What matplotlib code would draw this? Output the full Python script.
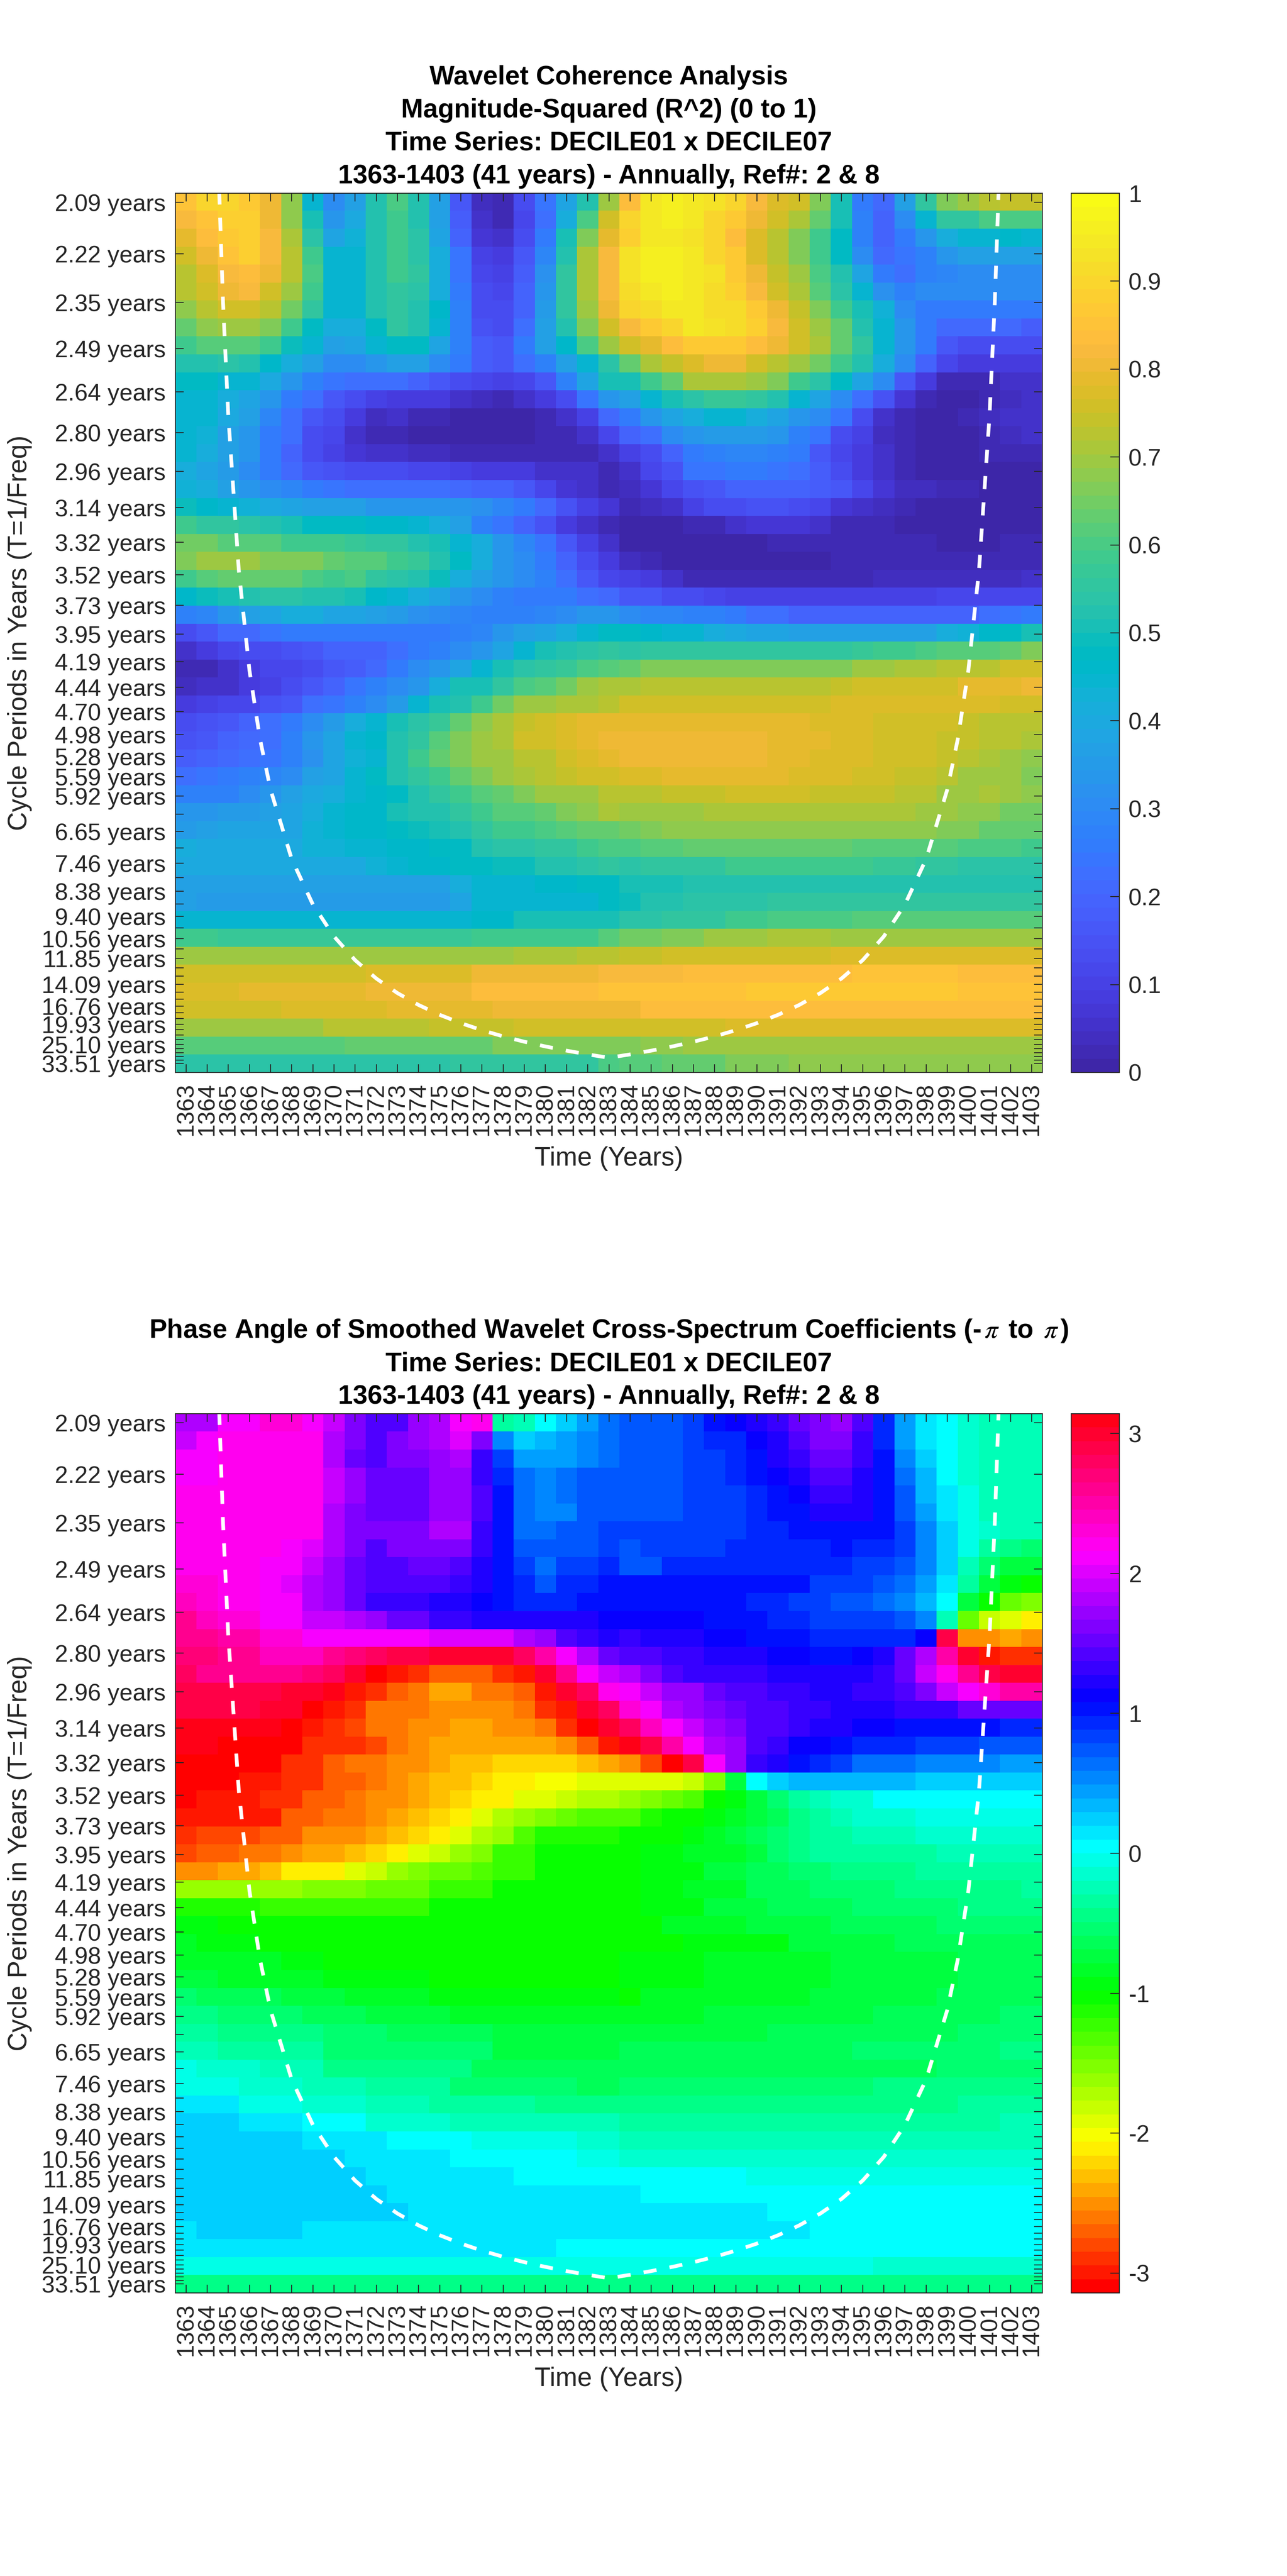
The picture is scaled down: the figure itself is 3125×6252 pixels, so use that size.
import numpy as np
import matplotlib
matplotlib.use("Agg")
import matplotlib.pyplot as plt
from matplotlib.colors import ListedColormap, hsv_to_rgb

plt.rcParams['font.family'] = ['Liberation Sans', 'DejaVu Sans']
plt.rcParams['mathtext.fontset'] = 'stix'
plt.rcParams['lines.scale_dashes'] = False

years = list(range(1363, 1404))
base_periods = [2.0944, 2.2189, 2.3509, 2.4907, 2.6388, 2.7957, 2.9620, 3.1381, 3.3247, 3.5224, 3.7318, 3.9537,
                4.1888, 4.4379, 4.7018, 4.9814, 5.2776, 5.5914, 5.9238, 6.2761, 6.6493, 7.0447, 7.4636, 7.9074,
                8.3776, 8.8757, 9.4035, 9.9627, 10.5551, 11.1827, 11.8477, 12.5521, 13.2985, 14.0893, 14.9271,
                15.8147, 16.7551, 17.7514, 18.8070, 19.9253, 21.1101, 22.3654, 23.6953, 25.1043, 26.5971,
                28.1787, 29.8543, 31.6295, 33.5103]
period_labels = {0: '2.09', 1: '2.22', 2: '2.35', 3: '2.49', 4: '2.64', 5: '2.80', 6: '2.96', 7: '3.14', 8: '3.32',
                 9: '3.52', 10: '3.73', 11: '3.95', 12: '4.19', 13: '4.44', 14: '4.70', 15: '4.98', 16: '5.28',
                 17: '5.59', 18: '5.92', 20: '6.65', 22: '7.46', 24: '8.38', 26: '9.40', 28: '10.56', 30: '11.85',
                 33: '14.09', 36: '16.76', 39: '19.93', 43: '25.10', 48: '33.51'}

# Magnitude-squared coherence, hundredths; row 0 = shortest period
coherence_pct = [
[85,90,90,86,80,68,45,30,36,52,60,52,36,17,4,2,14,24,38,53,70,83,94,96,94,93,90,82,78,75,67,51,25,21,36,56,66,70,72,74,74],
[82,85,88,88,80,68,50,33,40,53,58,53,36,18,5,3,12,23,42,60,76,90,94,96,94,90,86,81,76,71,64,50,27,20,30,45,55,56,60,60,60],
[79,83,86,88,82,71,54,38,43,53,58,54,38,19,7,5,14,26,50,66,79,88,95,95,93,90,83,78,72,67,58,47,27,19,25,33,42,44,44,46,44],
[75,81,85,88,82,72,58,44,44,52,58,54,41,24,10,8,17,29,53,71,82,93,96,96,94,90,86,78,72,67,58,47,31,21,24,27,34,37,37,36,36],
[73,78,82,83,81,72,60,45,45,52,59,55,42,24,12,10,18,32,55,71,82,93,96,96,94,93,86,80,74,69,60,52,38,25,23,27,29,31,31,31,30],
[72,76,80,82,76,70,59,45,44,53,56,54,42,25,13,11,19,33,56,71,82,91,94,96,94,92,88,82,76,71,62,54,44,32,28,30,31,31,31,30,30],
[68,73,76,76,73,65,55,44,44,53,55,53,46,27,13,13,19,35,55,70,80,90,92,94,94,92,91,86,80,74,66,59,50,43,31,25,25,25,25,25,25],
[63,68,70,70,66,58,48,42,42,48,55,53,45,28,15,14,22,37,52,66,75,82,86,90,94,93,92,88,82,75,70,63,53,45,34,25,21,21,21,21,18],
[58,61,62,62,58,49,45,37,38,45,48,48,38,28,18,17,25,37,46,60,70,75,79,83,86,86,86,83,80,75,71,63,55,45,34,25,17,13,13,13,13],
[52,53,54,52,46,42,36,30,30,34,36,36,30,25,18,17,23,28,36,44,54,64,71,74,77,80,80,75,72,70,65,58,52,41,30,20,12,8,8,8,8],
[47,47,45,45,40,33,28,24,22,22,22,20,17,14,11,10,12,16,27,38,50,50,59,64,71,71,71,70,66,59,54,47,39,30,17,8,3,2,3,5,5],
[45,44,42,38,33,26,23,17,13,10,9,8,8,6,4,3,5,8,14,24,34,37,44,51,54,57,57,55,52,45,39,31,23,15,7,3,1,1,3,4,5],
[45,44,40,37,29,23,17,13,9,4,5,3,2,0,0,0,0,2,6,10,21,25,33,38,41,44,44,41,38,33,31,24,14,6,3,0,0,3,4,5,5],
[45,43,37,33,26,22,13,11,5,3,2,1,0,0,0,0,0,3,3,5,12,19,23,30,33,35,35,35,33,27,24,14,10,4,2,1,1,1,3,4,5],
[45,42,36,33,26,19,13,10,7,6,5,4,4,3,3,3,3,3,2,2,5,10,13,20,25,28,29,29,27,25,17,12,9,5,2,1,1,1,2,2,2],
[42,38,35,31,26,21,16,15,13,13,13,11,11,10,9,9,8,6,5,5,3,5,11,15,24,24,26,25,24,23,18,14,9,6,3,1,1,0,0,0,0],
[43,42,37,33,31,29,25,24,22,22,22,22,22,21,20,20,16,11,7,5,3,4,7,11,15,17,19,20,20,20,18,16,11,7,4,4,2,2,0,0,0],
[49,46,45,43,40,38,37,36,36,34,34,34,34,33,32,29,26,21,15,10,7,2,4,6,10,13,14,15,15,13,12,7,5,4,2,1,1,0,0,0,0],
[58,55,55,54,53,50,48,47,47,46,46,44,41,36,28,24,20,15,8,5,3,0,0,0,3,3,5,7,7,7,5,3,3,2,1,1,0,0,0,0,1],
[65,65,62,62,62,59,59,59,57,56,55,52,51,45,41,34,29,24,16,10,5,1,1,0,0,0,1,1,2,2,2,2,2,2,2,2,1,1,1,2,2],
[66,69,69,69,66,66,66,63,61,61,59,57,53,47,42,34,30,25,20,13,8,4,2,1,0,0,0,0,0,1,1,2,2,2,2,2,2,2,2,2,2],
[59,62,63,63,63,63,60,59,60,55,54,53,49,42,37,34,31,27,22,16,12,10,9,5,3,3,3,3,3,3,3,3,3,4,4,4,4,4,4,4,5],
[46,49,51,53,54,54,53,52,50,46,44,42,38,33,30,28,26,26,25,22,21,17,17,14,13,11,10,10,10,10,10,10,10,10,10,10,11,11,12,12,12],
[27,29,33,37,38,41,41,38,38,36,35,32,30,29,28,27,28,29,31,33,34,30,29,29,28,27,25,23,22,20,20,19,19,20,20,20,20,20,22,24,26],
[13,17,21,21,24,25,25,25,25,25,25,25,26,27,29,33,37,38,41,45,47,47,46,45,44,42,40,39,38,37,37,37,36,36,36,37,42,43,46,48,50],
[6,8,11,13,14,15,17,19,20,20,23,25,27,30,34,38,45,50,52,54,56,54,56,56,56,55,55,55,55,55,55,55,57,58,59,60,61,62,62,64,67],
[2,3,6,8,11,12,13,16,18,21,25,30,33,38,44,50,54,56,57,60,62,63,66,66,66,66,66,66,66,67,67,67,69,69,71,71,72,72,73,75,75],
[4,6,6,8,10,14,17,19,24,27,30,33,41,50,51,55,60,62,65,69,71,71,72,72,72,72,72,73,73,73,73,74,75,75,76,76,76,79,79,79,80],
[8,10,12,12,15,17,22,24,27,30,35,45,50,53,59,65,69,70,71,71,72,75,75,75,75,75,75,75,75,75,75,78,78,78,78,78,78,78,78,76,75],
[13,15,17,20,23,26,30,35,41,45,50,54,57,64,68,71,74,75,77,79,79,79,79,79,79,79,79,79,79,79,78,78,78,76,76,76,75,74,73,72,72],
[15,17,20,21,23,27,33,39,44,46,52,56,62,66,70,71,75,75,77,79,81,81,81,81,81,81,81,81,79,79,79,78,78,76,76,75,74,74,73,72,71],
[18,19,21,22,24,28,32,39,43,45,53,58,63,67,70,70,72,72,75,77,79,81,81,81,81,81,81,81,79,79,78,78,78,76,76,75,74,72,71,70,68],
[22,24,25,27,29,31,36,39,44,48,53,56,59,63,66,69,71,72,74,75,76,77,77,79,79,79,79,79,79,77,77,77,75,75,74,74,72,70,70,69,66],
[27,28,28,30,33,36,40,42,45,46,48,53,55,58,61,64,67,69,70,70,72,73,73,74,74,74,75,75,75,75,74,74,74,74,72,72,70,70,71,69,68],
[33,33,35,35,37,38,42,45,46,46,50,52,53,55,58,61,62,64,66,68,71,70,70,70,70,71,71,71,71,71,71,71,71,71,71,70,70,68,68,65,65],
[35,36,38,38,39,39,43,45,46,46,47,49,51,53,55,58,59,60,62,63,64,65,66,68,68,68,68,68,68,68,68,68,68,68,68,68,66,66,64,64,64],
[42,40,40,40,40,40,43,43,45,45,46,46,47,47,53,54,54,56,56,58,60,60,62,62,63,63,63,63,64,64,64,64,62,62,62,62,62,60,60,60,59],
[40,40,40,40,40,40,40,40,40,43,45,46,46,47,47,49,49,52,53,54,55,54,55,55,55,55,58,58,58,58,58,58,58,57,57,56,56,54,54,54,54],
[36,36,36,36,36,36,36,36,36,36,36,36,36,41,44,44,44,46,46,47,47,50,51,51,53,53,53,53,53,53,53,53,53,53,53,53,53,52,52,52,52],
[37,35,35,35,35,35,35,35,35,35,35,35,35,38,44,44,44,44,44,45,48,49,52,52,54,54,54,54,55,55,55,55,55,55,55,55,56,56,56,56,56],
[44,44,44,44,44,44,44,44,44,44,44,44,44,44,46,46,50,50,51,51,51,54,54,55,55,55,58,58,60,60,60,60,62,62,62,62,62,62,62,62,62],
[58,58,57,57,57,57,57,57,57,57,57,57,57,57,59,59,59,59,59,59,62,65,65,67,67,69,70,70,71,71,71,70,70,70,70,70,70,70,70,70,70],
[69,69,69,69,69,69,69,70,70,70,70,70,70,70,70,70,71,71,71,73,73,74,74,75,75,75,76,76,76,76,76,78,78,78,78,78,78,78,78,78,78],
[76,76,76,76,76,76,76,76,76,78,78,78,78,78,80,80,80,80,80,81,82,82,82,82,83,83,83,83,83,83,83,83,85,85,85,85,85,83,83,83,83],
[78,78,78,79,79,79,79,79,79,81,81,81,81,81,83,83,83,83,83,83,85,85,85,85,85,85,85,86,86,86,86,86,86,86,86,86,86,85,85,85,85],
[76,76,76,76,76,78,78,78,78,78,79,79,79,79,79,81,81,81,81,81,81,81,83,83,83,83,83,83,83,83,83,83,83,83,83,83,83,83,83,83,83],
[69,70,70,70,70,70,70,72,72,72,72,72,74,74,74,74,75,75,75,75,75,76,76,76,76,76,78,78,78,78,78,78,78,78,78,78,78,78,78,78,78],
[61,61,61,61,61,61,61,61,64,64,64,64,64,64,64,66,66,66,66,66,66,66,68,68,70,70,70,70,70,70,70,70,70,70,70,70,70,70,70,70,70],
[54,54,54,54,54,54,54,54,54,54,54,54,54,56,56,56,56,56,56,56,60,62,62,64,64,64,66,66,66,68,68,68,68,68,68,68,68,68,68,68,68],
]

# Phase angle in radians; row 0 = shortest period
phase_rad = [
[1.85,1.85,2.15,2.15,2.3,2.3,2.15,1.9,1.6,1.45,1.45,1.68,1.82,2.09,2.2,-.35,-.2,.06,.27,.47,.66,.75,.75,.75,.88,1.0,1.1,1.2,1.3,1.55,1.62,1.7,1.4,.95,.43,.15,0,-.12,-.22,-.22,-.22],
[1.87,2.15,2.2,2.2,2.2,2.2,2.2,1.85,1.6,1.45,1.6,1.68,1.8,1.97,1.62,.5,.2,.3,.4,.55,.66,.75,.75,.75,.88,.95,.98,1.1,1.25,1.4,1.6,1.6,1.3,.95,.43,.15,0,-.1,-.2,-.2,-.2],
[2.1,2.1,2.2,2.2,2.2,2.2,2.2,1.85,1.55,1.4,1.6,1.6,1.72,1.85,1.35,.85,.4,.4,.48,.55,.66,.72,.72,.72,.85,.85,.98,1.05,1.18,1.35,1.5,1.5,1.35,1.0,.53,.25,0,-.1,-.2,-.2,-.2],
[2.09,2.15,2.2,2.2,2.2,2.2,2.2,1.95,1.7,1.55,1.55,1.55,1.72,1.75,1.35,.95,.6,.5,.62,.72,.72,.72,.72,.72,.85,.85,.98,1.03,1.15,1.25,1.4,1.4,1.25,1.02,.62,.35,0,-.1,-.2,-.2,-.28],
[2.2,2.2,2.2,2.2,2.2,2.2,2.2,1.95,1.7,1.55,1.55,1.55,1.72,1.72,1.38,1.05,.6,.55,.6,.72,.72,.72,.72,.72,.85,.85,.85,.97,1.05,1.17,1.35,1.3,1.2,1.03,.72,.35,.12,-.08,-.2,-.2,-.28],
[2.2,2.2,2.2,2.2,2.2,2.2,2.2,1.8,1.65,1.55,1.55,1.55,1.72,1.72,1.38,1.05,.68,.58,.58,.72,.72,.72,.72,.72,.85,.85,.85,.97,1.05,1.05,1.2,1.2,1.2,1.03,.72,.45,.12,-.08,-.2,-.2,-.28],
[2.2,2.2,2.2,2.2,2.2,2.2,2.2,1.85,1.6,1.6,1.6,1.6,1.8,1.8,1.3,1.05,.68,.6,.7,.7,.8,.8,.8,.85,.85,.85,.85,.97,.97,1.0,1.05,1.05,1.05,1.03,.85,.5,.2,-.08,-.15,-.25,-.25],
[2.2,2.2,2.2,2.2,2.2,2.15,2.0,1.85,1.6,1.45,1.62,1.62,1.62,1.62,1.3,1.05,.7,.7,.72,.75,.85,.7,.85,.85,.85,.85,.95,.95,.95,.95,.95,1.05,.95,.95,.85,.5,.2,-.02,-.3,-.42,-.55],
[2.2,2.2,2.2,2.2,2.1,2.09,1.95,1.7,1.55,1.4,1.4,1.5,1.55,1.38,1.2,1.05,.8,.62,.8,.8,.9,.78,.78,.97,.97,.97,.97,.97,.97,.97,.97,.97,.88,.88,.75,.5,.2,-.2,-.5,-.7,-.78],
[2.3,2.3,2.2,2.2,2.09,1.97,1.85,1.7,1.55,1.4,1.4,1.4,1.4,1.32,1.2,1.02,.9,.75,.9,.9,1.02,1.0,1.0,1.0,1.0,1.0,1.0,1.0,1.0,1.0,.85,.85,.85,.75,.65,.45,.1,-.3,-.75,-.9,-1.05],
[2.45,2.3,2.25,2.2,2.1,2.09,1.85,1.75,1.55,1.35,1.35,1.35,1.25,1.18,1.12,1.03,.97,.97,.97,1.03,1.03,1.03,1.03,1.03,1.03,1.03,1.03,.97,.97,.85,.85,.72,.72,.65,.55,.35,0,-.7,-1.05,-1.4,-1.55],
[2.6,2.44,2.27,2.27,2.13,2.09,1.95,1.95,1.8,1.7,1.55,1.55,1.35,1.3,1.25,1.2,1.2,1.2,1.2,1.2,1.13,1.15,1.15,1.15,1.15,1.05,1.05,1.05,.97,.97,.85,.85,.8,.8,.7,.5,-.22,-1.4,-1.85,-1.95,-2.09],
[2.6,2.6,2.5,2.5,2.33,2.33,2.15,2.15,2.15,2.15,2.15,2.15,2.0,2.0,2.0,2.0,1.85,1.7,1.45,1.3,1.25,1.33,1.25,1.25,1.25,1.15,1.15,1.05,1.05,1.05,.98,.98,.98,.98,.98,1.13,2.92,-2.55,-2.55,-2.42,-2.55],
[2.67,2.67,2.6,2.6,2.45,2.45,2.45,2.6,2.7,2.8,2.85,2.9,3.0,3.0,3.0,3.0,2.8,2.52,2.09,1.77,1.5,1.45,1.45,1.32,1.32,1.2,1.2,1.2,1.12,1.12,1.05,1.05,1.15,1.25,1.5,1.85,2.55,2.95,-3.0,-2.9,-2.9],
[2.8,2.6,2.6,2.6,2.6,2.6,2.7,2.8,2.95,-3.14,-3.0,-2.85,-2.73,-2.73,-2.73,-2.85,-3.0,3.0,2.6,2.09,1.95,1.82,1.65,1.45,1.35,1.35,1.3,1.3,1.25,1.25,1.25,1.25,1.25,1.3,1.55,1.9,2.2,2.6,2.92,2.95,2.95],
[2.9,2.9,2.85,2.85,2.85,2.95,3.0,3.05,-3.0,-2.85,-2.73,-2.6,-2.45,-2.45,-2.6,-2.6,-2.73,-3.0,3.0,2.75,2.2,2.15,1.9,1.7,1.7,1.5,1.38,1.38,1.3,1.3,1.25,1.25,1.33,1.33,1.42,1.6,1.9,2.1,2.35,2.5,2.55],
[2.93,2.93,2.93,2.93,3.0,3.0,-3.14,-3.0,-2.88,-2.65,-2.6,-2.6,-2.5,-2.5,-2.5,-2.5,-2.6,-2.85,-3.0,3.0,2.75,2.3,2.12,1.85,1.75,1.6,1.5,1.4,1.4,1.33,1.33,1.25,1.25,1.25,1.28,1.28,1.37,1.5,1.5,1.5,1.5],
[3.05,3.05,3.05,3.1,3.1,-3.14,-3.0,-2.85,-2.75,-2.65,-2.6,-2.5,-2.5,-2.4,-2.4,-2.5,-2.5,-2.6,-2.85,-3.05,3.0,2.75,2.45,2.09,1.95,1.7,1.6,1.45,1.38,1.3,1.22,1.22,1.12,1.12,1.05,1.05,1.05,1.05,1.05,.98,.98],
[3.05,3.05,-3.14,-3.14,-3.14,-3.05,-2.9,-2.85,-2.85,-2.75,-2.6,-2.5,-2.4,-2.4,-2.4,-2.4,-2.4,-2.4,-2.48,-2.73,-3.0,3.05,2.85,2.5,2.15,1.8,1.75,1.4,1.35,1.15,1.1,1.03,.97,.9,.9,.8,.8,.8,.72,.72,.72],
[-3.14,-3.14,-3.14,-3.05,-3.05,-2.9,-2.9,-2.73,-2.65,-2.6,-2.5,-2.5,-2.45,-2.35,-2.35,-2.25,-2.25,-2.25,-2.25,-2.35,-2.45,-2.5,-2.75,-3.14,2.85,2.15,1.75,1.3,1.2,1.03,.98,.8,.68,.6,.6,.5,.5,.5,.5,.42,.42],
[-3.05,-3.05,-3.05,-3.0,-3.0,-2.85,-2.85,-2.73,-2.73,-2.6,-2.55,-2.45,-2.35,-2.35,-2.25,-2.15,-2.15,-2.05,-2.05,-1.95,-1.95,-1.95,-1.95,-1.95,-1.85,-1.5,-.7,0,.2,.3,.3,.3,.3,.3,.3,.2,.2,.2,.2,.2,.2],
[-3.05,-2.95,-2.95,-2.95,-2.85,-2.85,-2.73,-2.73,-2.6,-2.5,-2.5,-2.4,-2.35,-2.25,-2.12,-2.09,-1.95,-1.87,-1.78,-1.68,-1.68,-1.65,-1.55,-1.45,-1.3,-1.05,-.9,-.7,-.5,-.3,-.2,-.1,-.1,0,0,0,0,0,0,0,0],
[-2.95,-2.95,-2.95,-2.95,-2.95,-2.72,-2.72,-2.62,-2.62,-2.55,-2.45,-2.35,-2.25,-2.15,-1.95,-1.75,-1.65,-1.55,-1.45,-1.35,-1.3,-1.3,-1.15,-1.05,-1.05,-.95,-.85,-.75,-.65,-.45,-.3,-.2,-.15,-.15,-.15,-.05,-.05,-.05,-.05,-.05,-.05],
[-2.9,-2.75,-2.75,-2.75,-2.72,-2.7,-2.55,-2.5,-2.5,-2.45,-2.35,-2.25,-2.09,-1.95,-1.7,-1.6,-1.35,-1.15,-1.15,-1.12,-1.12,-1.05,-1.0,-1.0,-.9,-.8,-.75,-.65,-.55,-.4,-.35,-.3,-.25,-.2,-.2,-.12,-.12,-.12,-.12,-.12,-.12],
[-2.8,-2.7,-2.7,-2.62,-2.62,-2.5,-2.42,-2.42,-2.35,-2.25,-2.09,-1.95,-1.8,-1.65,-1.5,-1.25,-1.2,-1.0,-1.0,-1.0,-1.0,-1.02,-.97,-.97,-.85,-.85,-.85,-.72,-.55,-.45,-.35,-.35,-.3,-.3,-.3,-.3,-.2,-.2,-.2,-.2,-.2],
[-2.5,-2.5,-2.38,-2.38,-2.28,-2.15,-2.15,-2.09,-1.95,-1.85,-1.65,-1.55,-1.45,-1.38,-1.3,-1.18,-1.18,-1.05,-1.05,-1.05,-1.02,-1.05,-.95,-.95,-.95,-.78,-.78,-.65,-.65,-.52,-.52,-.42,-.42,-.42,-.42,-.35,-.35,-.35,-.35,-.35,-.35],
[-1.6,-1.65,-1.65,-1.65,-1.65,-1.65,-1.55,-1.55,-1.55,-1.45,-1.45,-1.4,-1.25,-1.25,-1.2,-1.05,-1.05,-1.05,-1.0,-1.0,-1.0,-1.0,-.95,-.95,-.8,-.8,-.8,-.65,-.65,-.65,-.55,-.55,-.5,-.5,-.4,-.4,-.4,-.4,-.4,-.4,-.35],
[-1.1,-1.1,-1.15,-1.15,-1.25,-1.25,-1.25,-1.25,-1.2,-1.2,-1.2,-1.2,-1.05,-1.05,-1.05,-1.05,-1.05,-1.05,-1.05,-1.05,-1.05,-1.03,-.9,-.9,-.9,-.72,-.72,-.72,-.6,-.6,-.6,-.6,-.5,-.5,-.5,-.5,-.5,-.42,-.42,-.42,-.42],
[-.9,-.95,-1.0,-1.0,-1.05,-1.05,-1.05,-1.05,-1.05,-1.05,-1.05,-1.05,-1.05,-1.05,-1.05,-1.05,-1.05,-1.05,-1.05,-1.05,-1.05,-1.03,-1.03,-.88,-.88,-.88,-.88,-.72,-.72,-.72,-.72,-.6,-.6,-.6,-.6,-.6,-.5,-.5,-.5,-.5,-.5],
[-.85,-.9,-.95,-.95,-1.0,-1.0,-1.0,-1.0,-1.05,-1.05,-1.05,-1.05,-1.05,-1.05,-1.05,-1.05,-1.05,-1.05,-1.05,-1.05,-1.02,-1.02,-1.02,-1.02,-.92,-.92,-.92,-.92,-.92,-.72,-.72,-.72,-.72,-.72,-.62,-.62,-.62,-.62,-.62,-.62,-.62],
[-.8,-.8,-.85,-.85,-.85,-.9,-.9,-1.05,-1.05,-1.05,-1.05,-1.05,-1.05,-1.05,-1.05,-1.05,-1.05,-1.05,-1.05,-1.05,-1.0,-.98,-.98,-.98,-.98,-.88,-.88,-.88,-.88,-.88,-.88,-.72,-.72,-.72,-.72,-.72,-.72,-.6,-.6,-.6,-.6],
[-.78,-.78,-.82,-.82,-.82,-.82,-.82,-.95,-.95,-.95,-.95,-.95,-1.02,-1.02,-1.02,-1.02,-1.02,-1.02,-1.02,-1.02,-1.02,-.97,-.97,-.97,-.97,-.85,-.85,-.85,-.85,-.85,-.85,-.7,-.7,-.7,-.7,-.7,-.7,-.6,-.6,-.6,-.6],
[-.55,-.62,-.62,-.62,-.62,-.75,-.75,-.75,-.87,-.87,-.87,-.87,-.98,-.98,-.98,-.98,-.98,-.98,-.98,-.98,-.98,-1.03,-.85,-.85,-.85,-.85,-.85,-.85,-.85,-.85,-.72,-.72,-.72,-.72,-.72,-.72,-.6,-.6,-.6,-.6,-.6],
[-.45,-.45,-.5,-.5,-.55,-.55,-.65,-.65,-.65,-.72,-.72,-.72,-.72,-.85,-.85,-.85,-.85,-.85,-.85,-.85,-.85,-.8,-.8,-.8,-.8,-.72,-.72,-.72,-.72,-.72,-.72,-.72,-.72,-.62,-.62,-.62,-.62,-.62,-.62,-.52,-.52],
[-.35,-.35,-.42,-.42,-.42,-.48,-.48,-.58,-.58,-.58,-.68,-.68,-.68,-.68,-.68,-.78,-.78,-.78,-.78,-.78,-.78,-.75,-.75,-.75,-.75,-.75,-.75,-.75,-.62,-.62,-.62,-.62,-.62,-.62,-.62,-.62,-.62,-.55,-.55,-.55,-.55],
[-.2,-.2,-.3,-.3,-.3,-.38,-.38,-.5,-.5,-.5,-.5,-.58,-.58,-.58,-.58,-.7,-.7,-.7,-.7,-.7,-.7,-.68,-.68,-.68,-.68,-.68,-.68,-.68,-.68,-.68,-.68,-.68,-.58,-.58,-.58,-.58,-.58,-.58,-.58,-.48,-.48],
[-.02,-.18,-.18,-.18,-.28,-.28,-.28,-.4,-.4,-.4,-.48,-.48,-.48,-.48,-.6,-.6,-.6,-.6,-.6,-.6,-.6,-.62,-.62,-.62,-.62,-.62,-.62,-.62,-.62,-.62,-.62,-.62,-.62,-.62,-.62,-.62,-.5,-.5,-.5,-.5,-.5],
[-.02,-.02,-.02,-.12,-.12,-.12,-.27,-.27,-.27,-.38,-.38,-.38,-.38,-.5,-.5,-.5,-.5,-.5,-.5,-.6,-.6,-.55,-.55,-.55,-.55,-.55,-.55,-.55,-.55,-.55,-.55,-.55,-.55,-.48,-.48,-.48,-.48,-.48,-.48,-.4,-.4],
[.19,.19,.19,-.02,-.02,-.02,-.15,-.15,-.15,-.25,-.25,-.25,-.35,-.35,-.35,-.35,-.35,-.42,-.42,-.42,-.42,-.42,-.42,-.42,-.42,-.42,-.42,-.42,-.42,-.42,-.42,-.42,-.42,-.42,-.42,-.42,-.42,-.35,-.35,-.35,-.35],
[.25,.25,.25,.1,.1,.1,0,0,0,-.1,-.1,-.1,-.1,-.2,-.2,-.2,-.2,-.2,-.28,-.28,-.28,-.32,-.32,-.32,-.32,-.32,-.32,-.32,-.32,-.32,-.32,-.32,-.32,-.32,-.32,-.32,-.32,-.32,-.32,-.28,-.28],
[.25,.25,.25,.25,.25,.25,.1,.1,.1,.1,0,0,0,0,-.08,-.08,-.08,-.08,-.08,-.15,-.15,-.2,-.2,-.2,-.2,-.2,-.2,-.2,-.2,-.2,-.2,-.2,-.2,-.2,-.2,-.2,-.2,-.2,-.2,-.2,-.2],
[.25,.25,.25,.25,.25,.25,.25,.25,.1,.1,.1,.1,.1,0,0,0,0,0,0,-.06,-.06,-.12,-.12,-.12,-.12,-.12,-.12,-.12,-.12,-.12,-.12,-.12,-.12,-.12,-.12,-.12,-.12,-.12,-.12,-.12,-.12],
[.25,.25,.25,.25,.25,.25,.25,.25,.25,.1,.1,.1,.1,.1,.1,.1,0,0,0,0,0,0,0,0,0,0,0,-.08,-.08,-.08,-.08,-.08,-.08,-.08,-.08,-.08,-.08,-.08,-.08,-.08,-.08],
[.25,.25,.25,.25,.25,.25,.25,.25,.25,.25,.1,.1,.1,.1,.1,.1,.1,.1,.1,.1,.1,.1,0,0,0,0,0,0,0,0,0,0,0,0,0,0,0,0,0,0,0],
[.25,.25,.25,.25,.25,.25,.25,.25,.25,.25,.25,.1,.1,.1,.1,.1,.1,.1,.1,.1,.1,.1,.1,.1,.1,.1,.1,.1,0,0,0,0,0,0,0,0,0,0,0,0,0],
[.1,.25,.25,.25,.25,.25,.1,.1,.1,.1,.1,.1,.1,.1,.1,.1,.1,.1,.1,.1,.1,.1,.1,.1,.1,.1,.1,.1,.1,.1,0,0,0,0,0,0,0,0,0,0,0],
[.1,.1,.1,.1,.1,.1,.1,.1,.1,.1,.1,.1,.1,.1,.1,.1,.1,.1,0,0,0,0,0,0,0,0,0,0,0,0,0,0,0,0,0,0,0,0,0,0,0],
[-.08,-.08,-.08,-.08,-.08,-.08,-.08,-.08,-.08,-.08,-.08,-.08,-.08,-.08,-.08,-.08,-.08,-.08,-.08,-.08,-.08,-.08,-.08,-.08,-.08,-.08,-.08,-.08,-.08,-.08,-.08,-.08,-.08,-.12,-.12,-.12,-.12,-.12,-.12,-.12,-.12],
[-.4,-.4,-.4,-.4,-.4,-.4,-.4,-.4,-.4,-.4,-.4,-.4,-.4,-.4,-.4,-.4,-.4,-.4,-.4,-.4,-.4,-.4,-.4,-.4,-.4,-.4,-.4,-.4,-.4,-.4,-.4,-.4,-.4,-.4,-.4,-.4,-.4,-.4,-.4,-.4,-.4],
]

# Cone of influence: year and period
coi_year = [1364.57, 1364.75, 1365, 1365.5, 1366, 1366.5, 1367, 1368, 1369, 1370, 1371, 1372, 1373, 1374, 1375,
            1376, 1377, 1378, 1379, 1380, 1381, 1382, 1383, 1384, 1385, 1386, 1387, 1388, 1389, 1390, 1391, 1392,
            1393, 1394, 1395, 1396, 1397, 1398, 1399, 1399.5, 1400, 1400.5, 1401, 1401.25, 1401.43]
coi_period = [2.07, 2.35, 2.73, 3.5, 4.27, 5.04, 5.81, 7.35, 8.89, 10.43, 11.97, 13.51, 15.05, 16.59, 18.13,
              19.67, 21.21, 22.75, 24.29, 25.83, 27.37, 28.91, 30.45, 28.91, 27.37, 25.83, 24.29, 22.75, 21.21,
              19.67, 18.13, 16.59, 15.05, 13.51, 11.97, 10.43, 8.89, 7.35, 5.81, 5.04, 4.27, 3.5, 2.73, 2.35, 2.07]

coh_ticks = [0, .1, .2, .3, .4, .5, .6, .7, .8, .9, 1]
coh_ticklabels = ['0', '0.1', '0.2', '0.3', '0.4', '0.5', '0.6', '0.7', '0.8', '0.9', '1']
phase_ticks = [-3, -2, -1, 0, 1, 2, 3]

parula_rgb = [
(0.2422,0.1504,0.6603),(0.2504,0.1650,0.7076),(0.2578,0.1818,0.7511),(0.2647,0.1978,0.7952),(0.2706,0.2147,0.8364),
(0.2751,0.2342,0.8710),(0.2783,0.2559,0.8991),(0.2803,0.2782,0.9221),(0.2813,0.3006,0.9414),(0.2810,0.3228,0.9579),
(0.2795,0.3447,0.9717),(0.2760,0.3667,0.9829),(0.2699,0.3892,0.9906),(0.2602,0.4123,0.9952),(0.2440,0.4358,0.9988),
(0.2206,0.4603,0.9973),(0.1963,0.4847,0.9892),(0.1834,0.5074,0.9798),(0.1786,0.5289,0.9682),(0.1764,0.5499,0.9520),
(0.1687,0.5703,0.9359),(0.1540,0.5902,0.9218),(0.1460,0.6091,0.9079),(0.1380,0.6276,0.8973),(0.1248,0.6459,0.8883),
(0.1113,0.6635,0.8763),(0.0952,0.6798,0.8598),(0.0689,0.6948,0.8394),(0.0297,0.7082,0.8163),(0.0036,0.7203,0.7917),
(0.0067,0.7312,0.7660),(0.0433,0.7411,0.7394),(0.0964,0.7500,0.7120),(0.1408,0.7584,0.6842),(0.1717,0.7670,0.6554),
(0.1938,0.7758,0.6251),(0.2161,0.7843,0.5923),(0.2470,0.7918,0.5567),(0.2906,0.7973,0.5188),(0.3406,0.8008,0.4789),
(0.3909,0.8029,0.4354),(0.4456,0.8024,0.3909),(0.5044,0.7993,0.3480),(0.5616,0.7942,0.3045),(0.6174,0.7876,0.2612),
(0.6720,0.7793,0.2227),(0.7242,0.7698,0.1910),(0.7738,0.7598,0.1646),(0.8203,0.7498,0.1535),(0.8634,0.7406,0.1596),
(0.9035,0.7330,0.1774),(0.9393,0.7288,0.2100),(0.9728,0.7298,0.2394),(0.9956,0.7434,0.2371),(0.9970,0.7659,0.2199),
(0.9952,0.7893,0.2028),(0.9892,0.8136,0.1885),(0.9786,0.8386,0.1766),(0.9676,0.8639,0.1643),(0.9610,0.8890,0.1537),
(0.9597,0.9135,0.1423),(0.9628,0.9373,0.1265),(0.9691,0.9606,0.1064),(0.9769,0.9839,0.0805)]
parula = ListedColormap(parula_rgb)
hsv64 = ListedColormap(hsv_to_rgb(np.column_stack([np.arange(64) / 64, np.ones(64), np.ones(64)])))

bad = [(n, i, len(r)) for n, m in (('coh', coherence_pct), ('ph', phase_rad)) for i, r in enumerate(m) if len(r) != 41]
if bad or len(coherence_pct) != 49 or len(phase_rad) != 49:
    raise SystemExit(str(bad) + f' {len(coherence_pct)} {len(phase_rad)}')

W, H = 3125, 6252
DARK = (0.15, 0.15, 0.15)
FS_TICK, FS_LABEL, FS_TITLE = 41.5, 46, 46.3
freqs = 1 / np.array(base_periods)
half = (freqs[0] - freqs[-1]) / 48 / 2


def rect(left, top, right, bottom):
    return [left / W, 1 - bottom / H, (right - left) / W, (bottom - top) / H]


def panel(fig, top, bottom, matrix, cmap, vmin, vmax, titles, cticks, cticklabels):
    ax = fig.add_axes(rect(426, top, 2531, bottom))
    im = ax.imshow(np.array(matrix, dtype=float), cmap=cmap, vmin=vmin, vmax=vmax, aspect='auto',
                   interpolation='nearest', origin='upper',
                   extent=[years[0] - .5, years[-1] + .5, freqs[-1] - half, freqs[0] + half])
    ax.plot(coi_year, 1 / np.array(coi_period), color='white', lw=6.5, dashes=(23, 23), dash_capstyle='butt')
    ax.set_xlim(years[0] - .5, years[-1] + .5)
    ax.set_ylim(freqs[-1] - half, freqs[0] + half)
    ax.set_xticks(years)
    ax.set_xticklabels([str(y) for y in years], rotation=90, fontsize=FS_TICK, color=DARK)
    ax.set_yticks(freqs)
    ax.set_yticklabels([period_labels[i] + ' years' if i in period_labels else '' for i in range(49)],
                       fontsize=FS_TICK, color=DARK)
    ax.tick_params(axis='both', direction='in', length=14.4, width=1.6, color=DARK, top=True, right=True)
    ax.tick_params(axis='x', pad=18)
    ax.tick_params(axis='y', pad=17)
    for s in ax.spines.values():
        s.set_color(DARK)
        s.set_linewidth(1.6)
    ax.set_xlabel('Time (Years)', fontsize=FS_LABEL, color=DARK)
    ax.xaxis.set_label_coords(.5, -(2812 - 2603) / (bottom - top))
    ax.xaxis.label.set_va('center')
    ax.set_ylabel('Cycle Periods in Years (T=1/Freq)', fontsize=FS_LABEL, color=DARK)
    ax.yaxis.set_label_coords((48 - 426) / 2105, .5)
    ax.yaxis.label.set_va('center')
    n = len(titles)
    for i, t in enumerate(titles):
        ax.text(.5, 1 + (41 + 80 * (n - 1 - i)) / (bottom - top), t, transform=ax.transAxes, ha='center',
                va='center', fontsize=FS_TITLE, fontweight='bold', color='black')
    cax = fig.add_axes(rect(2601, top, 2718, bottom))
    cb = fig.colorbar(im, cax=cax)
    cb.set_ticks(cticks)
    cb.set_ticklabels(cticklabels)
    cax.tick_params(axis='y', direction='in', length=15.5, width=1.6, color=DARK, labelsize=FS_TICK,
                    labelcolor=DARK, pad=16)
    cb.outline.set_edgecolor(DARK)
    cb.outline.set_linewidth(1.6)


fig = plt.figure(figsize=(W / 100, H / 100), dpi=100, facecolor='white')
panel(fig, 469, 2603, np.array(coherence_pct) / 100, parula, 0, 1,
      ['Wavelet Coherence Analysis', 'Magnitude-Squared (R^2) (0 to 1)', 'Time Series: DECILE01 x DECILE07',
       '1363-1403 (41 years) - Annually, Ref#: 2 & 8'], coh_ticks, coh_ticklabels)
panel(fig, 3431, 5565, phase_rad, hsv64, -np.pi, np.pi,
      [r'Phase Angle of Smoothed Wavelet Cross-Spectrum Coefficients (-$\,\pi\,$ to $\,\pi\,$)',
       'Time Series: DECILE01 x DECILE07', '1363-1403 (41 years) - Annually, Ref#: 2 & 8'],
      phase_ticks, [str(t) for t in phase_ticks])
fig.savefig('out.png', dpi=100, facecolor='white')
